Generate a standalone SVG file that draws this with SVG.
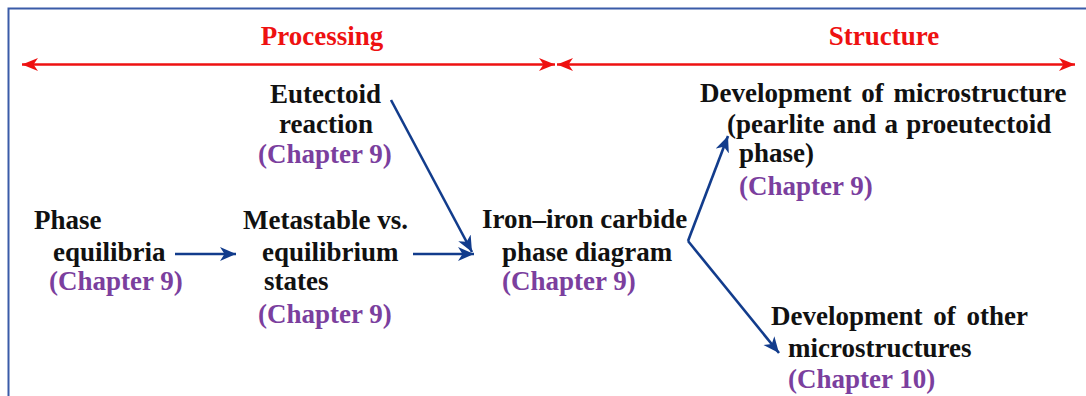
<svg xmlns="http://www.w3.org/2000/svg" width="1086" height="396" viewBox="0 0 1086 396">
<style>
text{font-family:"Liberation Serif","Times New Roman",serif;font-weight:bold;font-size:27px;fill:#111}
.ch{fill:#7B3F9E}
.hd{fill:#EE1111;text-anchor:middle}
.ws{word-spacing:3px}
.blue{stroke:#123C8C;stroke-width:2.6;fill:none}
.red{stroke:#EE1111;stroke-width:2.5;fill:none}
</style>
<defs>
<marker id="ab" markerUnits="userSpaceOnUse" markerWidth="17" markerHeight="15" refX="16" refY="7" orient="auto-start-reverse" viewBox="0 0 17 14">
<path d="M0,0 L16,7 L0,14 L4.5,7 Z" fill="#123C8C"/>
</marker>
<marker id="ar" markerUnits="userSpaceOnUse" markerWidth="17" markerHeight="14" refX="16" refY="6.5" orient="auto-start-reverse" viewBox="0 0 17 13">
<path d="M0,0 L16,6.5 L0,13 L4.5,6.5 Z" fill="#EE1111"/>
</marker>
</defs>
<path d="M8.5,396 V8.5 H1086" fill="none" stroke="#3A5BA8" stroke-width="2"/>
<g id="headers">
<text class="hd" x="322" y="45">Processing</text>
<text class="hd" x="884" y="45">Structure</text>
</g>
<g id="connectors">
<line class="red" x1="22" y1="64.5" x2="555" y2="64.5" marker-start="url(#ar)" marker-end="url(#ar)"/>
<line class="red" x1="557" y1="64.5" x2="1075" y2="64.5" marker-start="url(#ar)" marker-end="url(#ar)"/>
<line class="blue" x1="175" y1="254" x2="236" y2="254" marker-end="url(#ab)"/>
<line class="blue" x1="413" y1="254" x2="474" y2="254" marker-end="url(#ab)"/>
<line class="blue" x1="391" y1="100" x2="472" y2="252" marker-end="url(#ab)"/>
<line class="blue" x1="688" y1="241" x2="728" y2="136" marker-end="url(#ab)"/>
<line class="blue" x1="688" y1="241" x2="779" y2="353" marker-end="url(#ab)"/>
</g>
<g id="phase-equilibria">
<text x="34" y="229">Phase</text>
<text x="53" y="261">equilibria</text>
<text class="ch" x="49" y="290">(Chapter 9)</text>
</g>
<g id="eutectoid">
<text x="270" y="103">Eutectoid</text>
<text x="279" y="133">reaction</text>
<text class="ch" x="258" y="163">(Chapter 9)</text>
</g>
<g id="metastable">
<text x="243" y="229">Metastable vs.</text>
<text x="262" y="261">equilibrium</text>
<text x="264" y="290">states</text>
<text class="ch" x="258" y="323">(Chapter 9)</text>
</g>
<g id="iron-carbide">
<text x="482" y="228">Iron–iron carbide</text>
<text x="502" y="261">phase diagram</text>
<text class="ch" x="502" y="290">(Chapter 9)</text>
</g>
<g id="microstructure-pearlite">
<text class="ws" x="700" y="102">Development of microstructure</text>
<text class="ws" x="727" y="133" style="word-spacing:1.5px">(pearlite and a proeutectoid</text>
<text x="739" y="162">phase)</text>
<text class="ch" x="739" y="195">(Chapter 9)</text>
</g>
<g id="other-microstructures">
<text class="ws" x="771" y="325" style="word-spacing:4px">Development of other</text>
<text x="788" y="357">microstructures</text>
<text class="ch" x="788" y="388">(Chapter 10)</text>
</g>
</svg>
